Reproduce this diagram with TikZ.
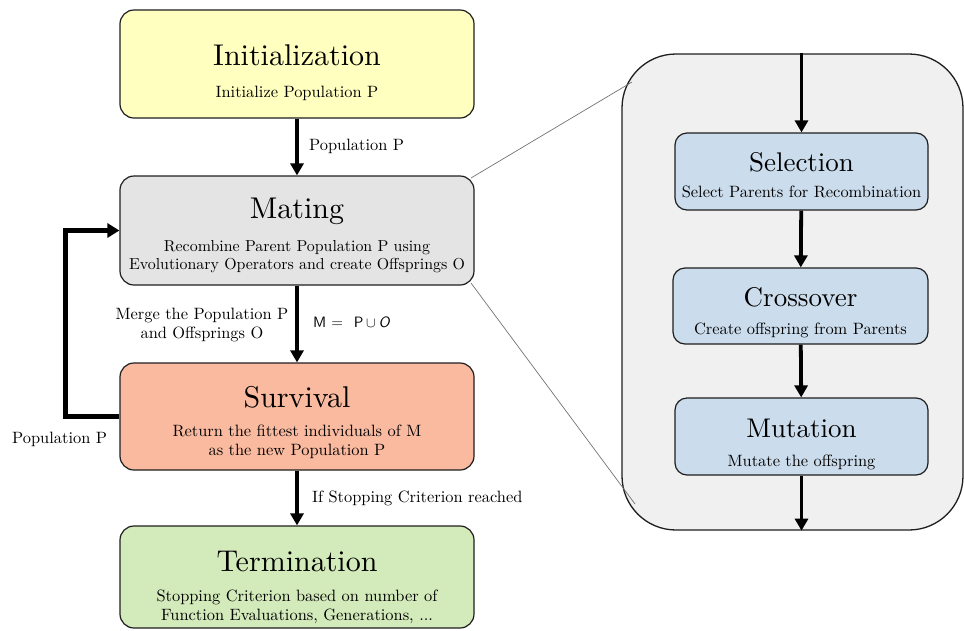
\documentclass[tikz,border=0pt]{standalone}
\usetikzlibrary{arrows.meta}
\DeclareFontFamily{TU}{lmx}{}
\DeclareFontShape{TU}{lmx}{m}{n}{<-> \UnicodeFontFile{lmroman10-regular}{\UnicodeFontTeXLigatures}}{}
\DeclareFontFamily{TU}{lmxs}{}
\DeclareFontShape{TU}{lmxs}{m}{n}{<-> \UnicodeFontFile{lmsans10-regular}{\UnicodeFontTeXLigatures}}{}
\DeclareFontShape{TU}{lmxs}{m}{it}{<-> \UnicodeFontFile{lmsans10-oblique}{\UnicodeFontTeXLigatures}}{}
\renewcommand{\rmdefault}{lmx}
\newcommand{\lmsansx}{\fontfamily{lmxs}\selectfont}
\definecolor{cinit}{RGB}{255,255,192}
\definecolor{cmate}{RGB}{228,228,228}
\definecolor{csurv}{RGB}{249,186,160}
\definecolor{cterm}{RGB}{211,234,186}
\definecolor{cpanel}{RGB}{240,240,240}
\definecolor{cblue}{RGB}{203,220,236}
\definecolor{cedge}{RGB}{30,30,30}
\begin{document}
\begin{tikzpicture}[x=1pt,y=-1pt,
  box/.style={draw=cedge, line width=1.2pt, rounded corners=14pt, minimum width=354pt, inner sep=0pt},
  sbox/.style={draw=cedge, line width=1.2pt, rounded corners=12pt, fill=cblue, minimum width=253pt, minimum height=77pt, inner sep=0pt},
  ttl/.style={anchor=base, inner sep=0pt, font=\rmfamily\fontsize{30}{36}\selectfont},
  sttl/.style={anchor=base, inner sep=0pt, font=\rmfamily\fontsize{27}{32}\selectfont},
  sub/.style={anchor=base, inner sep=0pt, align=center, font=\rmfamily\fontsize{16.4}{18.8}\selectfont},
  lbl/.style={inner sep=0pt, font=\rmfamily\fontsize{16.4}{18.5}\selectfont},
  arr/.style={line width=3.8pt, -{Triangle[length=12pt,width=13pt]}},
  thin/.style={draw=black!55, line width=0.7pt}
]
\useasboundingbox (0,0) rectangle (964,630);

% right panel
\node[draw=cedge, line width=1.3pt, fill=cpanel, rounded corners=54pt,
      minimum width=341pt, minimum height=476pt, inner sep=0pt] (panel) at (792.5,292) {};

% main boxes
\node[box, fill=cinit, minimum height=108pt] (init) at (297,64) {};
\node[box, fill=cmate, minimum height=109pt] (mate) at (297,230.5) {};
\node[box, fill=csurv, minimum height=107pt] (surv) at (297,416.5) {};
\node[box, fill=cterm, minimum height=102pt] (term) at (297,577) {};

\node[ttl] (initT) at (297,65) {Initialization};
\node[sub] (initS) at (297,97) {Initialize Population P};
\node[ttl] (mateT) at (297,218) {Mating};
\node[sub, font=\rmfamily\fontsize{15.9}{18}\selectfont] (mateS) at (297,269) {Recombine Parent Population P using\\Evolutionary Operators and create Offsprings O};
\node[ttl] (survT) at (297,407) {Survival};
\node[sub] (survS) at (297,455) {Return the fittest individuals of M\\as the new Population P};
\node[ttl] (termT) at (297,571) {Termination};
\node[sub] (termS) at (297,620) {Stopping Criterion based on number of\\Function Evaluations, Generations, ...};

% panel boxes
\node[sbox] (sel) at (801.5,171.5) {};
\node[sbox, minimum width=255pt, minimum height=76pt] (cross) at (800.5,306) {};
\node[sbox] (mut) at (801.5,436.5) {};
\node[sttl] (selT) at (801.5,171) {Selection};
\node[sub] (selS) at (801.5,197) {Select Parents for Recombination};
\node[sttl] (crossT) at (800.5,306) {Crossover};
\node[sub] (crossS) at (800.5,334) {Create offspring from Parents};
\node[sttl] (mutT) at (801.5,437) {Mutation};
\node[sub] (mutS) at (801.5,466) {Mutate the offspring};

% zoom lines
\coordinate (m1) at (471,178);
\coordinate (p1) at (632,82);
\coordinate (m2) at (471,283);
\coordinate (p2) at (635,504);
\draw[thin] (m1) -- (p1);
\draw[thin] (m2) -- (p2);

% arrows main
\draw[arr] (init) -- (mate);
\draw[arr] (mate) -- (surv);
\draw[arr] (surv) -- (term);
\draw[line width=4.5pt, -{Triangle[length=12pt,width=14pt]}] (surv.west) -- ++(-54,0) |- (mate.west);

% arrows panel
\coordinate (ptop) at (sel.north |- panel.north);
\coordinate (pbot) at (mut.south |- panel.south);
\draw[arr] (ptop) -- (sel);
\draw[arr] (sel) -- (cross);
\draw[arr] (cross) -- (mut);
\draw[arr] (mut) -- (pbot);

% labels
\node[lbl, anchor=base west] (l1) at (309,150) {Population P};
\node[lbl, anchor=base, align=center] (l2) at (202,338) {Merge the Population P\\and Offsprings O};
\node[inner sep=0pt, anchor=base west, font=\lmsansx\fontsize{15}{18}\selectfont] (l3) at (313,327) {M\hspace{5pt}=\hspace{11pt}P\hspace{2.5pt}$\cup$\hspace{3pt}{\itshape O}};
\node[lbl, anchor=base west] (l4) at (312,502) {If Stopping Criterion reached};
\node[lbl, anchor=base west] (l5) at (12,443) {Population P};
\end{tikzpicture}
\end{document}
